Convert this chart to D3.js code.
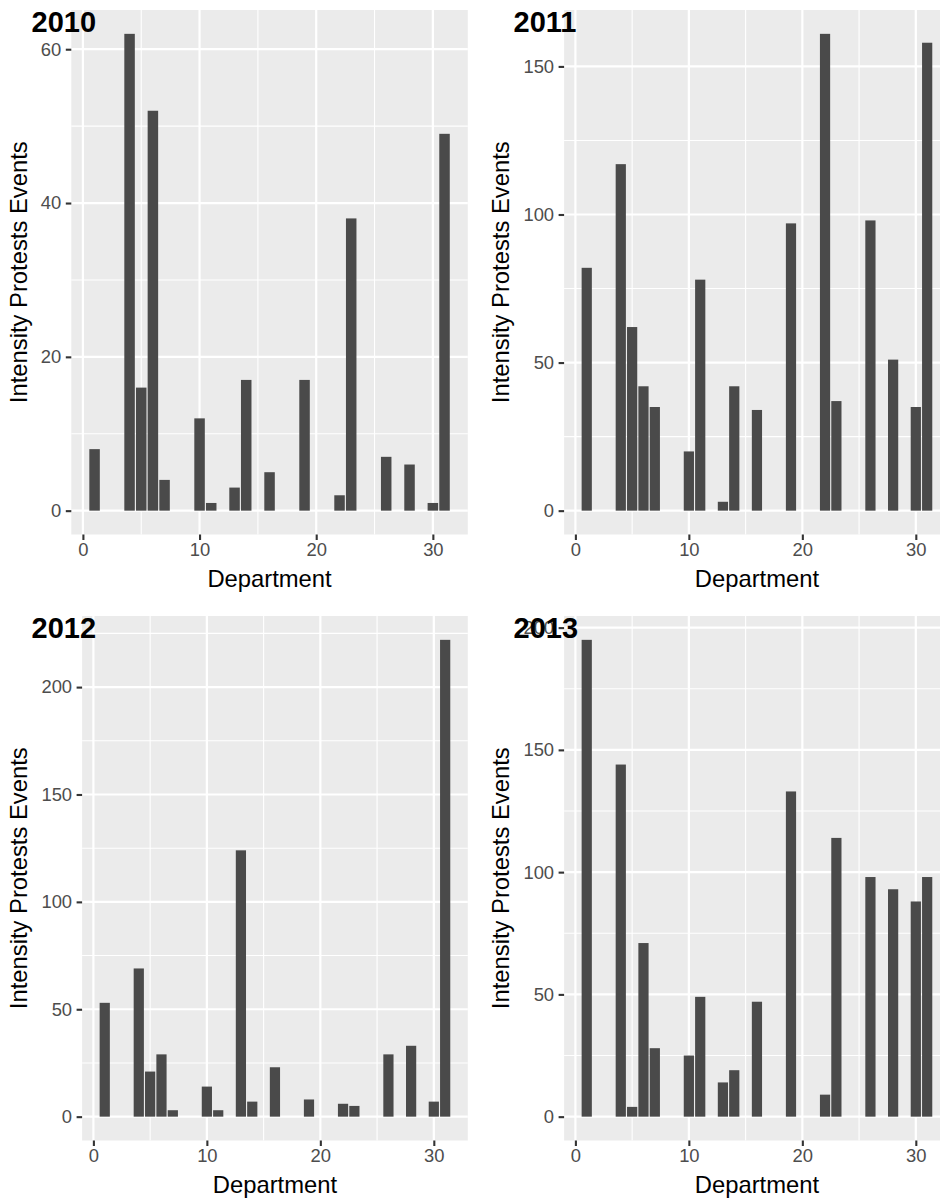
<!DOCTYPE html>
<html>
<head>
<meta charset="utf-8">
<script src="https://cdn.jsdelivr.net/npm/d3@7"></script>
<style>
  html, body { margin: 0; padding: 0; background: #ffffff; }
  svg { display: block; }
  text { font-family: "Liberation Sans", Arial, Helvetica, sans-serif; }
</style>
</head>
<body>
<svg id="chart" width="940" height="1201"></svg>
<script>
// Departments with recorded protest events
const departments = [1, 4, 5, 6, 7, 10, 11, 13, 14, 16, 19, 22, 23, 26, 28, 30, 31];

// Intensity of protest events per department, one array per year
const values2010 = [8, 62, 16, 52, 4, 12, 1, 3, 17, 5, 17, 2, 38, 7, 6, 1, 49];
const values2011 = [82, 117, 62, 42, 35, 20, 78, 3, 42, 34, 97, 161, 37, 98, 51, 35, 158];
const values2012 = [53, 69, 21, 29, 3, 14, 3, 124, 7, 23, 8, 6, 5, 29, 33, 7, 222];
const values2013 = [195, 144, 4, 71, 28, 25, 49, 14, 19, 47, 133, 9, 114, 98, 93, 88, 98];

// Axis tick labels
const xTicks = [0, 10, 20, 30];
const yTicks2010 = [0, 20, 40, 60];
const yTicks2011 = [0, 50, 100, 150];
const yTicks2012 = [0, 50, 100, 150, 200];
const yTicks2013 = [0, 50, 100, 150, 200];

const years = ["2010", "2011", "2012", "2013"];
const seriesByYear = [values2010, values2011, values2012, values2013];
const ticksByYear = [yTicks2010, yTicks2011, yTicks2012, yTicks2013];

// Layout: 2x2 grid of cells
const cellOrigins = [[0, 0], [482, 0], [0, 606], [482, 606]];
const panelTop = 10, panelBottom = 534.5, panelRight = 467.8;
const barWidth = 0.9;

const svg = d3.select("#chart");

years.forEach((year, i) => {
  const values = seriesByYear[i];
  const yTicks = ticksByYear[i];
  const [cx, cy] = cellOrigins[i];
  const labelDigits = d3.max(yTicks, t => String(t).length);
  const panelLeft = labelDigits >= 3 ? 82.1 : 71.3;

  const g = svg.append("g").attr("transform", `translate(${cx},${cy})`);

  // Continuous x scale with 5% expansion around the bar extent
  const xMin = d3.min(departments) - barWidth / 2;
  const xMax = d3.max(departments) + barWidth / 2;
  const xPad = (xMax - xMin) * 0.05;
  const x = d3.scaleLinear()
    .domain([xMin - xPad, xMax + xPad])
    .range([panelLeft, panelRight]);

  const yMax = d3.max(values);
  const y = d3.scaleLinear()
    .domain([-0.05 * yMax, 1.05 * yMax])
    .range([panelBottom, panelTop]);

  // Panel background
  g.append("rect")
    .attr("x", panelLeft).attr("y", panelTop)
    .attr("width", panelRight - panelLeft)
    .attr("height", panelBottom - panelTop)
    .attr("fill", "#EBEBEB");

  // Minor grid lines halfway between major ticks
  const xStep = xTicks[1] - xTicks[0];
  const yStep = yTicks[1] - yTicks[0];
  const [xd0, xd1] = x.domain();
  const [yd0, yd1] = y.domain();
  const xMinor = d3.range(xTicks[0] - xStep / 2, xd1, xStep).filter(v => v > xd0 && v < xd1);
  const yMinor = d3.range(yTicks[0] - yStep / 2, yd1, yStep).filter(v => v > yd0 && v < yd1);

  const grid = g.append("g").attr("stroke", "#ffffff").attr("fill", "none");
  grid.selectAll(".yminor").data(yMinor).join("line")
    .attr("x1", panelLeft).attr("x2", panelRight)
    .attr("y1", d => y(d)).attr("y2", d => y(d))
    .attr("stroke-width", 1.1);
  grid.selectAll(".xminor").data(xMinor).join("line")
    .attr("y1", panelTop).attr("y2", panelBottom)
    .attr("x1", d => x(d)).attr("x2", d => x(d))
    .attr("stroke-width", 1.1);
  grid.selectAll(".ymajor").data(yTicks).join("line")
    .attr("x1", panelLeft).attr("x2", panelRight)
    .attr("y1", d => y(d)).attr("y2", d => y(d))
    .attr("stroke-width", 2.2);
  grid.selectAll(".xmajor").data(xTicks).join("line")
    .attr("y1", panelTop).attr("y2", panelBottom)
    .attr("x1", d => x(d)).attr("x2", d => x(d))
    .attr("stroke-width", 2.2);

  // Bars
  g.append("g").selectAll("rect")
    .data(departments.map((d, k) => ({ dept: d, value: values[k] })))
    .join("rect")
    .attr("x", d => x(d.dept - barWidth / 2))
    .attr("width", d => x(d.dept + barWidth / 2) - x(d.dept - barWidth / 2))
    .attr("y", d => y(d.value))
    .attr("height", d => y(0) - y(d.value))
    .attr("fill", "#4A4A4A");

  // Axes
  const yAxis = g.append("g")
    .attr("transform", `translate(${panelLeft},0)`)
    .call(d3.axisLeft(y).tickValues(yTicks).tickSize(5.5).tickPadding(4.5));
  const xAxis = g.append("g")
    .attr("transform", `translate(0,${panelBottom})`)
    .call(d3.axisBottom(x).tickValues(xTicks).tickSize(5.5).tickPadding(3));

  [yAxis, xAxis].forEach(ax => {
    ax.select(".domain").remove();
    ax.selectAll(".tick line").attr("stroke", "#333333").attr("stroke-width", 2.1);
    ax.selectAll(".tick text")
      .attr("fill", "#4D4D4D")
      .style("font-size", "18.4px")
      .style("font-family", "'Liberation Sans', Arial, sans-serif");
  });

  // Axis titles
  g.append("text")
    .attr("x", (panelLeft + panelRight) / 2)
    .attr("y", panelBottom + 52.8)
    .attr("text-anchor", "middle")
    .attr("fill", "#000000")
    .style("font-size", "23.8px")
    .text("Department");

  g.append("text")
    .attr("transform", `translate(26.7,${(panelTop + panelBottom) / 2}) rotate(-90)`)
    .attr("text-anchor", "middle")
    .attr("fill", "#000000")
    .style("font-size", "23.8px")
    .text("Intensity Protests Events");

  // Year label in the top-left corner of each cell
  g.append("text")
    .attr("x", 31.5)
    .attr("y", 32.2)
    .attr("fill", "#000000")
    .style("font-size", "29px")
    .style("font-weight", "bold")
    .text(year);
});
</script>
</body>
</html>
